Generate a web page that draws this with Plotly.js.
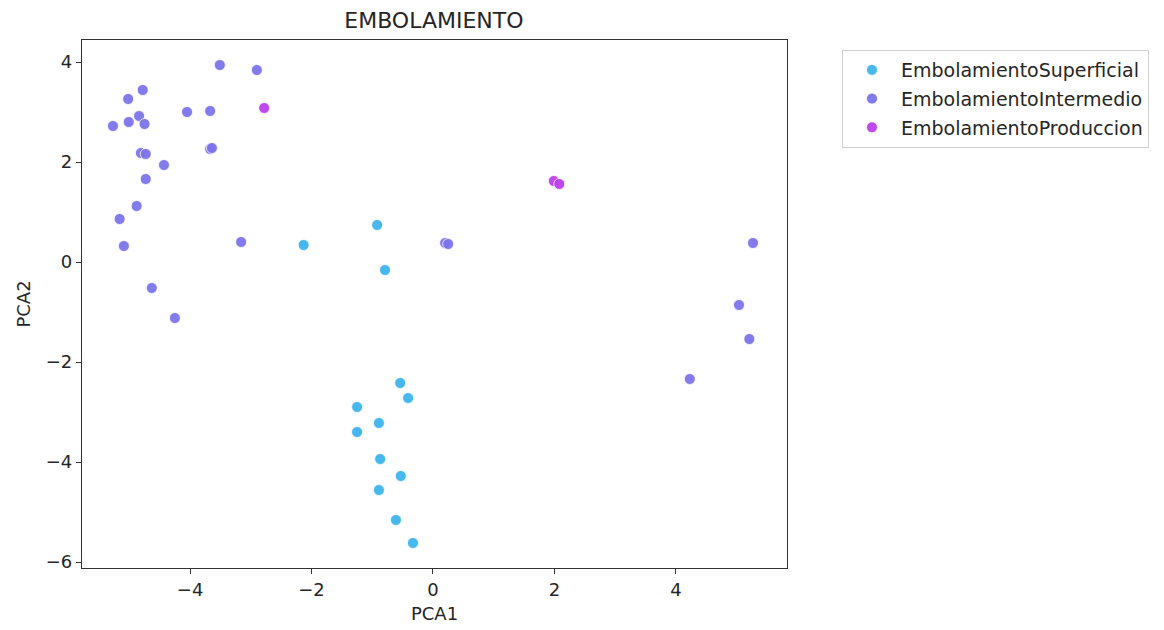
<!DOCTYPE html>
<html>
<head>
<meta charset="utf-8">
<script src="https://cdn.plot.ly/plotly-3.0.1.min.js"></script>
<style>html,body{margin:0;padding:0;background:#fff;}#chart{width:1164px;height:630px;}</style>
</head>
<body>
<div id="chart"></div>
<script>
// Data
const supX = [-2.13, -0.92, -0.79, -0.54, -0.41, -1.25, -0.89, -1.25, -0.87, -0.53, -0.89, -0.61, -0.33];
const supY = [0.34, 0.74, -0.16, -2.42, -2.72, -2.90, -3.22, -3.40, -3.94, -4.28, -4.56, -5.16, -5.62];

const intX = [-3.51, -2.90, -4.78, -5.02, -4.05, -3.67, -5.01, -4.84, -4.75, -5.27, -3.67, -3.64, -4.81, -4.73, -4.43, -4.73, -4.88, -5.16, -5.09, -3.16, -4.63, -4.25, 0.20, 0.25, 5.27, 5.04, 5.21, 4.23];
const intY = [3.94, 3.84, 3.44, 3.26, 3.00, 3.02, 2.80, 2.92, 2.76, 2.72, 2.26, 2.28, 2.18, 2.16, 1.94, 1.66, 1.12, 0.86, 0.32, 0.40, -0.52, -1.12, 0.38, 0.36, 0.38, -0.86, -1.54, -2.34];

const proX = [-2.78, 1.99, 2.08];
const proY = [3.08, 1.62, 1.56];

const names = ["EmbolamientoSuperficial", "EmbolamientoIntermedio", "EmbolamientoProduccion"];
const colors = ["#3db5ee", "#7c74ea", "#bd40ee"];

const xs = [supX, intX, proX];
const ys = [supY, intY, proY];

const traces = names.map((n, i) => ({
  type: "scatter",
  mode: "markers",
  name: n,
  legendgroup: "g" + i,
  x: xs[i],
  y: ys[i],
  marker: {color: colors[i], size: 11, opacity: 0.95, line: {color: "#ffffff", width: 0.8}}
}));

const font = {family: "DejaVu Sans, sans-serif", color: "#262626"};

const layout = {
  width: 1164, height: 630,
  margin: {l: 82, r: 377, t: 40, b: 62},
  paper_bgcolor: "#ffffff",
  plot_bgcolor: "#ffffff",
  font: Object.assign({size: 18}, font),
  title: {text: "EMBOLAMIENTO", x: 0.3728, xanchor: "center", y: 0.968, yanchor: "middle", font: Object.assign({size: 22}, font)},
  xaxis: {
    range: [-5.78, 5.83], showgrid: false, zeroline: false,
    showline: true, mirror: true, linecolor: "#333", linewidth: 1.2,
    ticks: "outside", ticklen: 5, tickcolor: "#333", tickvals: [-4, -2, 0, 2, 4],
    ticktext: ["\u22124", "\u22122", "0", "2", "4"],
    tickfont: Object.assign({size: 18}, font),
    title: {text: "PCA1", font: Object.assign({size: 18}, font), standoff: 8}
  },
  yaxis: {
    range: [-6.12, 4.44], showgrid: false, zeroline: false,
    showline: true, mirror: true, linecolor: "#333", linewidth: 1.2,
    ticks: "outside", ticklen: 5, tickcolor: "#333", tickvals: [-6, -4, -2, 0, 2, 4],
    ticktext: ["\u22126", "\u22124", "\u22122", "0", "2", "4"],
    tickfont: Object.assign({size: 18}, font),
    title: {text: "PCA2", font: Object.assign({size: 18}, font), standoff: 10}
  },
  legend: {
    x: 1.078, y: 0.981, xanchor: "left", yanchor: "top",
    bordercolor: "#d0d0d0", borderwidth: 1, bgcolor: "#ffffff",
    font: Object.assign({size: 19}, font),
    tracegroupgap: 1,
    traceorder: "grouped",
    itemwidth: 48
  },
  showlegend: true
};

Plotly.newPlot("chart", traces, layout, {displayModeBar: false, staticPlot: true});
</script>
</body>
</html>
